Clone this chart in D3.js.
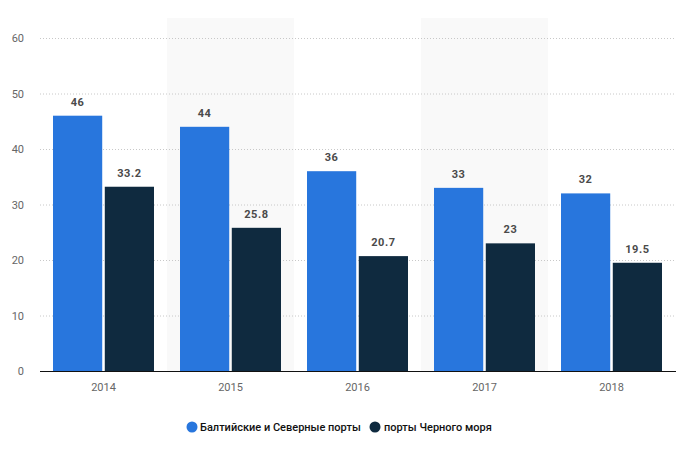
<!DOCTYPE html>
<html><head><meta charset="utf-8">
<script src="https://cdn.jsdelivr.net/npm/d3@7"></script>
<style>body{margin:0;background:#fff;}svg{display:block;font-family:Roboto,"Open Sans",sans-serif;}</style>
</head><body>
<svg id="c" width="685" height="465"></svg>
<script>
const categories = ["2014","2015","2016","2017","2018"];
const seriesNames = ["Балтийские и Северные порты","порты Черного моря"];
const baltic = [46,44,36,33,32];
const blackSea = [33.2,25.8,20.7,23,19.5];
const yTicks = [0,10,20,30,40,50,60];
const colors = ["#2876dd","#0f2a3f"];

const svg = d3.select("#c");
const x0 = 40, x1 = 675, yTop = 38, yBot = 371;
const x = d3.scaleBand().domain(categories).range([x0,x1]).paddingInner(0).paddingOuter(0);
const xs = d3.scaleBand().domain([0,1]).range([13, x.bandwidth()-13]).paddingInner(5/101);
const y = d3.scaleLinear().domain([0,60]).range([yBot,yTop]);

// shaded alternate bands
svg.append("g").selectAll("rect").data(categories.filter((d,i)=>i%2===1)).join("rect")
  .attr("x",d=>x(d)).attr("y",yTop-20).attr("width",x.bandwidth()).attr("height",yBot-yTop+20)
  .attr("fill","#f9f9f9");

// gridlines
svg.append("g").selectAll("line").data(yTicks.filter(t=>t>0)).join("line")
  .attr("x1",x0).attr("x2",x1).attr("y1",d=>y(d)+0.5).attr("y2",d=>y(d)+0.5)
  .attr("stroke","#c8c8c8").attr("stroke-dasharray","1,2");

// y labels
svg.append("g").selectAll("text").data(yTicks).join("text")
  .attr("x",24).attr("y",d=>y(d)+4).attr("text-anchor","end")
  .attr("font-size",11).attr("fill","#666").text(d=>d);

// bars
const data = categories.map((c,i)=>({c, vals:[baltic[i], blackSea[i]]}));
const g = svg.append("g").selectAll("g").data(data).join("g").attr("transform",d=>`translate(${x(d.c)},0)`);
g.selectAll("rect").data(d=>d.vals.map((v,k)=>({v,k}))).join("rect")
  .attr("x",d=>xs(d.k)).attr("width",xs.bandwidth())
  .attr("y",d=>y(d.v)).attr("height",d=>yBot-y(d.v)).attr("fill",d=>colors[d.k]);
g.selectAll("text").data(d=>d.vals.map((v,k)=>({v,k}))).join("text")
  .attr("x",d=>xs(d.k)+xs.bandwidth()/2).attr("y",d=>y(d.v)-10)
  .attr("text-anchor","middle").attr("font-size",11).attr("font-weight","bold")
  .attr("letter-spacing","0.6px")
  .attr("fill","#4a4a4a").text(d=>d.v);

// x axis line
svg.append("line").attr("x1",x0).attr("x2",x1+1).attr("y1",yBot+0.5).attr("y2",yBot+0.5)
  .attr("stroke","#111").attr("stroke-width",1.2);
svg.append("g").selectAll("text").data(categories).join("text")
  .attr("x",d=>x(d)+x.bandwidth()/2).attr("y",391).attr("text-anchor","middle")
  .attr("font-size",11).attr("fill","#666").text(d=>d);

// legend
const leg = [{cx:192,tx:200},{cx:375,tx:384}];
seriesNames.forEach((n,i)=>{
  svg.append("circle").attr("cx",leg[i].cx).attr("cy",427).attr("r",5.5).attr("fill",colors[i]);
  svg.append("text").attr("x",leg[i].tx).attr("y",431).attr("font-size",11).attr("font-weight",500)
    .attr("fill","#111").text(n);
});
</script>
</body></html>
